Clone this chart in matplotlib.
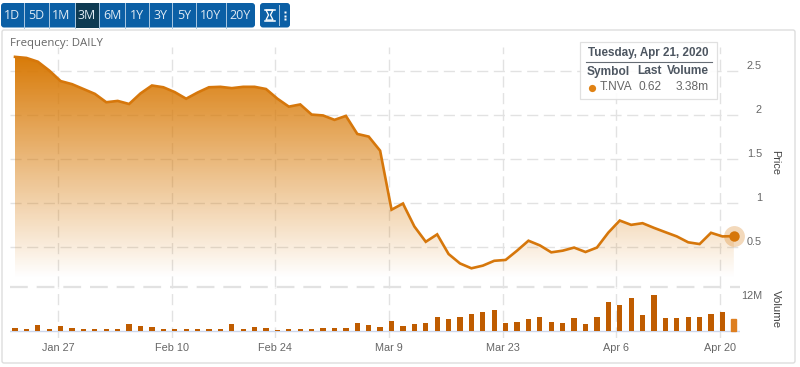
import numpy as np
import matplotlib
matplotlib.use('Agg')
import matplotlib.pyplot as plt
from matplotlib.patches import FancyBboxPatch, Rectangle, Polygon
from matplotlib.colors import LinearSegmentedColormap

plt.rcParams['font.family'] = ['Liberation Sans', 'DejaVu Sans']

# 終値（日次）
price = [2.655, 2.643, 2.60, 2.50, 2.38, 2.345, 2.29, 2.235, 2.14, 2.155, 2.12, 2.24, 2.33, 2.31, 2.255, 2.18,
         2.25, 2.31, 2.315, 2.30, 2.315, 2.315, 2.29, 2.18, 2.09, 2.115, 2.00, 1.99, 1.94, 1.985, 1.78, 1.75,
         1.59, 0.92, 0.99, 0.73, 0.556, 0.64, 0.417, 0.31, 0.255, 0.285, 0.34, 0.35, 0.455, 0.568, 0.515, 0.436,
         0.455, 0.49, 0.44, 0.49, 0.66, 0.797, 0.748, 0.767, 0.714, 0.665, 0.617, 0.55, 0.53, 0.658, 0.617, 0.62]
# 出来高（百万株）
volume = [0.8, 0.6, 1.6, 0.4, 1.35, 0.8, 0.4, 0.6, 0.6, 0.6, 1.85, 1.35, 1.0, 0.6, 0.6, 0.6,
          0.4, 0.4, 0.4, 1.85, 0.4, 1.0, 0.8, 0.3, 0.6, 0.6, 0.4, 0.8, 0.8, 0.8, 2.35, 1.6,
          1.0, 2.85, 1.5, 2.05, 2.35, 4.2, 3.4, 4.2, 5.2, 5.75, 6.25, 2.35, 2.65, 3.4, 4.0, 2.65,
          2.35, 3.7, 2.05, 4.2, 8.6, 7.8, 10.1, 4.7, 10.85, 3.7, 3.7, 4.0, 4.0, 5.2, 5.75, 3.38]

date_ticks = [3.8, 13.8, 22.8, 32.8, 42.75, 52.7, 61.75]
date_labels = ['Jan 27', 'Feb 10', 'Feb 24', 'Mar 9', 'Mar 23', 'Apr 6', 'Apr 20']
price_ticks = [0.5, 1, 1.5, 2, 2.5]
price_labels = ['0.5', '1', '1.5', '2', '2.5']
range_buttons = ['1D', '5D', '1M', '3M', '6M', '1Y', '3Y', '5Y', '10Y', '20Y']
button_edges = [(1, 23.5), (24.5, 48), (49, 74), (75, 98.5), (99.5, 124.5), (125.5, 148),
                (149, 171.5), (172.5, 195), (196, 225), (226, 255)]

LINE = '#d6770b'
BAR = '#bf5c00'
GRID = '#e2e2e2'
TEXT = '#666666'
W, H = 800, 367


def px_axes(left, top, right, bottom, **kw):
    return fig.add_axes([left / W, 1 - bottom / H, (right - left) / W, (bottom - top) / H], **kw)


fig = plt.figure(figsize=(W / 100, H / 100), dpi=100, facecolor='white')

# 背景（ボタンと枠）
bg = px_axes(0, 0, W, H)
bg.set_xlim(0, W)
bg.set_ylim(H, 0)
bg.axis('off')
bg.add_patch(FancyBboxPatch((2, 30), 793, 333, boxstyle='round,pad=0,rounding_size=2', fc='white', ec='#dddddd', lw=1.0))
bg.add_patch(FancyBboxPatch((1, 3), 254, 24.5, boxstyle='round,pad=0,rounding_size=3', fc='#0b5fa5', ec='none'))
bg.add_patch(FancyBboxPatch((260, 3), 30, 24.5, boxstyle='round,pad=0,rounding_size=3', fc='#0b5fa5', ec='none'))
for name, (x0, x1) in zip(range_buttons, button_edges):
    if name == '3M':
        bg.add_patch(Rectangle((x0, 3), x1 - x0, 24.5, fc='#0e3a52', ec='none'))
    if x1 < 255:
        bg.plot([x1 + 0.5, x1 + 0.5], [3, 27.5], color='#a9c8e2', lw=0.7)
    bg.text((x0 + x1) / 2, 15.5, name, color='#dfeaf4', fontsize=8.9, ha='center', va='center', family='Open Sans')
# 砂時計アイコンとメニュー
bg.add_patch(Polygon([(266, 10), (273, 10), (270.5, 15), (273, 20), (266, 20), (268.5, 15)], closed=True, fc='none', ec='white', lw=0.9))
bg.plot([264.5, 274.5], [9.5, 9.5], color='white', lw=1.1)
bg.plot([264.5, 274.5], [20.5, 20.5], color='white', lw=1.1)
bg.plot([279, 279], [5, 25], color='#a9c8e2', lw=0.7)
bg.plot([285, 285, 285], [11.5, 15.5, 19], ls='none', marker='s', ms=1.9, color='white', mec='none')
bg.text(10, 43.5, 'Frequency: DAILY', color=TEXT, fontsize=8.2, ha='left', va='center', family='Open Sans')
bg.text(775, 163, 'Price', color='#444444', fontsize=7.8, rotation=270, ha='center', va='center')
bg.text(776, 309, 'Volume', color='#444444', fontsize=8.2, rotation=270, ha='center', va='center')

# 座標: x はインデックス（取引日）
xlim = ((10 - 15) / 11.41, (740 - 15) / 11.41)
x = np.arange(len(price))

# 株価パネル
ax = px_axes(10, 47, 740, 287)
ax.patch.set_visible(False)
ax.set_xlim(*xlim)
ax.set_ylim(0.0426, 2.767)
for s in ax.spines.values():
    s.set_visible(False)
ax.set_xticks(date_ticks)
ax.tick_params(axis='x', length=0, labelbottom=False)
ax.set_yticks(price_ticks)
ax.set_yticklabels(price_labels)
ax.yaxis.tick_right()
ax.tick_params(axis='y', length=0, pad=15.8, labelsize=7.8, labelcolor=TEXT)
for t in ax.get_yticklabels():
    t.set_ha('right')
    t.set_va('bottom')
ax.grid(True, color=GRID, lw=1.0, ls=(0, (8, 4)))
ax.set_axisbelow(True)
ax.axhline(0.0426, color=GRID, lw=1.6, ls=(0, (8, 4)), clip_on=False)

# グラデーション塗り
fade = LinearSegmentedColormap.from_list('fade', [(0.85, 0.48, 0.03, 0.0), (0.85, 0.48, 0.03, 1.0)])
fill_base = 0.14
grad = ax.imshow(np.linspace(1, 0, 256).reshape(-1, 1), cmap=fade, aspect='auto', vmin=0, vmax=1,
                 extent=[0, 63, fill_base, max(price)], zorder=1.5, interpolation='bilinear')
poly = Polygon(list(zip(x, price)) + [(63, fill_base), (0, fill_base)], closed=True, transform=ax.transData, fc='none', ec='none')
ax.add_patch(poly)
grad.set_clip_path(poly)
ax.set_xlim(*xlim)
ax.set_ylim(0.0426, 2.767)

ax.plot(x, price, color=LINE, lw=1.9, zorder=3, solid_joinstyle='miter')
ax.plot(x[-1], price[-1], 'o', ms=15, color=LINE, alpha=0.28, mec='none', clip_on=False, zorder=3)
ax.plot(x[-1], price[-1], 'o', ms=7.5, color=LINE, mec='none', clip_on=False, zorder=4)

# 出来高パネル
vol = px_axes(10, 287, 740, 338)
vol.patch.set_visible(False)
vol.set_xlim(*xlim)
vol.set_ylim(-2.3, 13.35)
for s in vol.spines.values():
    s.set_visible(False)
bars = vol.bar(x, volume, width=0.46, color=BAR, zorder=2)
bars[-1].set_color('#de7f20')
vol.axhline(0, color='#ccd6eb', lw=1.0, zorder=1)
vol.set_xticks(date_ticks)
vol.set_xticklabels(date_labels)
vol.tick_params(axis='x', length=0, pad=3.5, labelsize=7.8, labelcolor=TEXT)
vol.grid(True, axis='x', color=GRID, lw=1.0, ls=(0, (8, 4)))
vol.set_axisbelow(True)
vol.set_yticks([12])
vol.set_yticklabels(['12M'])
vol.yaxis.tick_right()
vol.tick_params(axis='y', length=0, pad=15.8, labelsize=7.8, labelcolor=TEXT)
for t in vol.get_yticklabels():
    t.set_ha('right')
    t.set_va('top')

# ツールチップ
top = px_axes(0, 0, W, H)
top.patch.set_visible(False)
top.set_xlim(0, W)
top.set_ylim(H, 0)
top.axis('off')
top.add_patch(Rectangle((579.5, 41.5), 137, 57, fc='white', ec='#dddddd', lw=0.9, alpha=0.9))
TIP = '#4d5661'
top.text(709, 53, 'Tuesday, Apr 21, 2020', color=TIP, fontsize=8.4, fontweight='bold', ha='right', va='center')
top.plot([586, 712], [61.5, 61.5], color='#666d75', lw=0.8)
top.text(587, 71.5, 'Symbol', color=TIP, fontsize=8.6, fontweight='bold', ha='left', va='center')
top.text(662, 71.5, 'Last', color=TIP, fontsize=8.6, fontweight='bold', ha='right', va='center')
top.text(709, 71.5, 'Volume', color=TIP, fontsize=8.6, fontweight='bold', ha='right', va='center')
top.plot([591.5], [88], 'o', ms=5.2, color='#e08214', mec='none')
top.text(600, 87.5, 'T.NVA', color=TEXT, fontsize=8.6, ha='left', va='center')
top.text(662, 87.5, '0.62', color=TEXT, fontsize=8.6, ha='right', va='center')
top.text(709, 87.5, '3.38m', color=TEXT, fontsize=8.6, ha='right', va='center')

fig.savefig('out.png', dpi=100)
